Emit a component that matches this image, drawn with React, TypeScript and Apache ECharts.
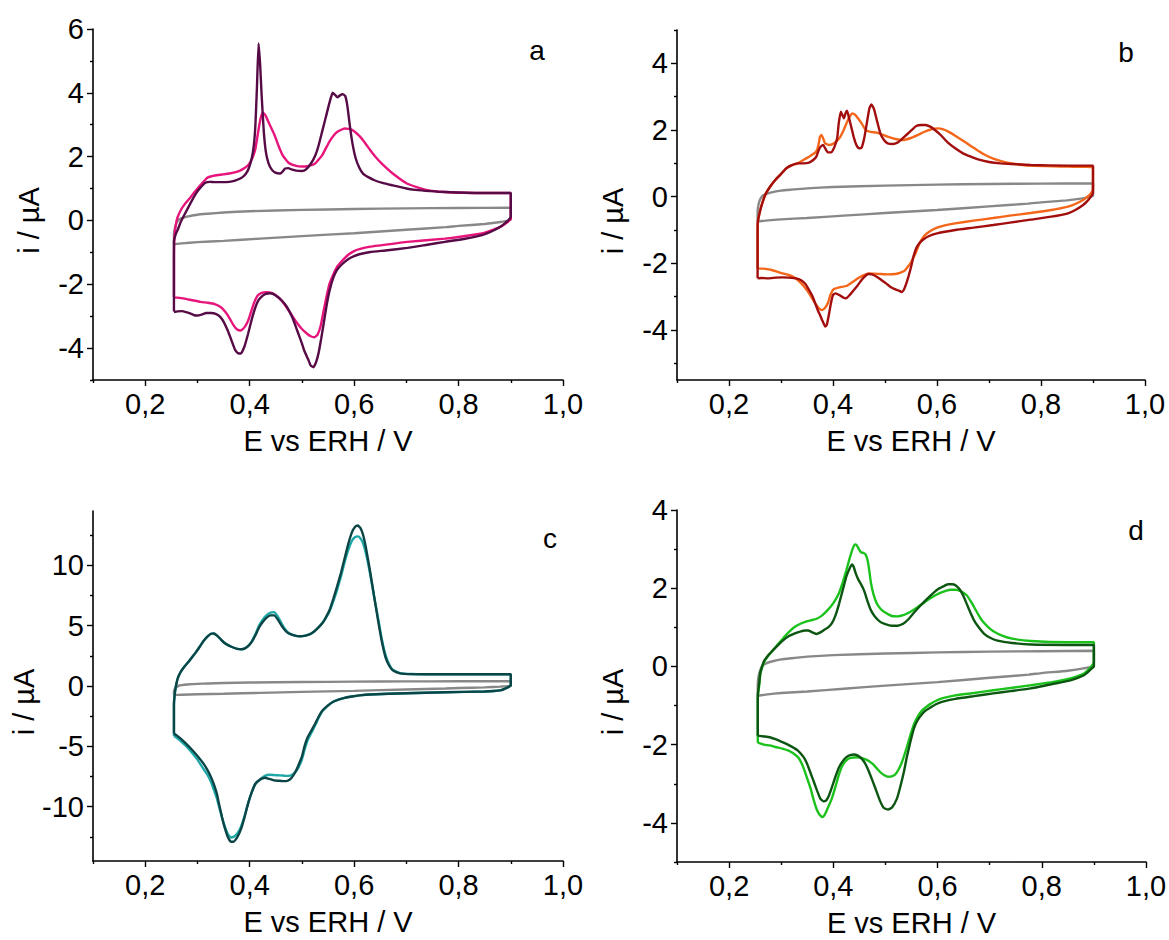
import React, { useEffect, useRef } from "react";
import * as echarts from "echarts";

// ---------- tick values ----------
const E_TICKS = [0.2, 0.4, 0.6, 0.8, 1.0];
const E_MINOR = [0.1, 0.3, 0.5, 0.7, 0.9];
const A_TICKS = [-4, -2, 0, 2, 4, 6];
const A_MINOR = [-5, -3, -1, 1, 3, 5];
const B_TICKS = [-4, -2, 0, 2, 4];
const B_MINOR = [-5, -3, -1, 1, 3, 5];
const C_TICKS = [-10, -5, 0, 5, 10];
const C_MINOR = [-12.5, -7.5, -2.5, 2.5, 7.5, 12.5];
const D_TICKS = [-4, -2, 0, 2, 4];
const D_MINOR = [-5, -3, -1, 1, 3];

// ---------- background (grey) CV, shared ----------
const greyUp: number[][] = [
  [0.255, -0.75], [0.255, -0.45], [0.257, -0.22], [0.26, -0.08], [0.264, 0.02], [0.27, 0.07],
  [0.28, 0.12], [0.3, 0.18], [0.32, 0.21], [0.35, 0.25], [0.4, 0.29], [0.5, 0.33],
  [0.6, 0.36], [0.7, 0.38], [0.8, 0.39], [0.9, 0.4], [0.9, 0.2], [0.9, 0.02],
];
const greyDown: number[][] = [
  [0.88, -0.05], [0.85, -0.11], [0.8, -0.17], [0.775, -0.21], [0.7, -0.29], [0.6, -0.4],
  [0.5, -0.49], [0.42, -0.57], [0.35, -0.64], [0.3, -0.68], [0.27, -0.72], [0.255, -0.75],
];

// ---------- panel a ----------
const aLightUp: number[][] = [
  [0.255, -2.41], [0.255, -1.2], [0.256, -0.5], [0.259, -0.1], [0.262, 0.1], [0.268, 0.32],
  [0.276, 0.52], [0.287, 0.73], [0.297, 0.94], [0.308, 1.15], [0.319, 1.34], [0.333, 1.41],
  [0.347, 1.44], [0.361, 1.47], [0.375, 1.52], [0.386, 1.6], [0.397, 1.73], [0.405, 1.95],
  [0.411, 2.25], [0.416, 2.75], [0.421, 3.2], [0.425, 3.38], [0.43, 3.3], [0.437, 3.05],
  [0.447, 2.7], [0.455, 2.35], [0.463, 2.05], [0.475, 1.8], [0.489, 1.71], [0.5, 1.69],
  [0.511, 1.7], [0.525, 1.78], [0.539, 2.05], [0.553, 2.48], [0.567, 2.77], [0.582, 2.88],
  [0.596, 2.84], [0.61, 2.65], [0.62, 2.45], [0.631, 2.2], [0.642, 1.97], [0.653, 1.78],
  [0.674, 1.47], [0.702, 1.15], [0.738, 0.96], [0.774, 0.89], [0.845, 0.86], [0.9, 0.86],
  [0.9, 0.3], [0.9, 0.05],
];
const aLightDown: number[][] = [
  [0.894, -0.05], [0.88, -0.2], [0.86, -0.33], [0.845, -0.41], [0.8, -0.52], [0.774, -0.57],
  [0.702, -0.67], [0.65, -0.78], [0.631, -0.82], [0.61, -0.9], [0.6, -0.96], [0.59, -1.06],
  [0.582, -1.18], [0.574, -1.32], [0.567, -1.46], [0.56, -1.7], [0.553, -1.98], [0.547, -2.4],
  [0.542, -2.8], [0.536, -3.3], [0.53, -3.58], [0.524, -3.66], [0.517, -3.63], [0.51, -3.55],
  [0.5, -3.4], [0.49, -3.2], [0.475, -2.83], [0.463, -2.55], [0.454, -2.4], [0.443, -2.28],
  [0.432, -2.25], [0.423, -2.27], [0.415, -2.36], [0.408, -2.6], [0.402, -2.9], [0.397, -3.14],
  [0.39, -3.35], [0.383, -3.45], [0.376, -3.42], [0.369, -3.28], [0.361, -3.05], [0.354, -2.88],
  [0.345, -2.72], [0.333, -2.62], [0.32, -2.58], [0.306, -2.55], [0.29, -2.5], [0.275, -2.45],
  [0.262, -2.42], [0.255, -2.41],
];
const aDarkUp: number[][] = [
  [0.255, -2.85], [0.255, -1.5], [0.255, -0.65], [0.258, -0.45], [0.262, -0.3], [0.268, -0.05],
  [0.276, 0.21], [0.287, 0.55], [0.297, 0.84], [0.306, 1.03], [0.315, 1.18], [0.324, 1.21],
  [0.333, 1.2], [0.347, 1.2], [0.361, 1.21], [0.372, 1.25], [0.383, 1.32], [0.392, 1.45],
  [0.398, 1.62], [0.404, 1.95], [0.408, 2.35], [0.411, 3.0], [0.414, 4.2], [0.417, 5.55],
  [0.42, 4.9], [0.423, 3.9], [0.427, 2.8], [0.431, 2.15], [0.436, 1.8], [0.442, 1.6],
  [0.449, 1.5], [0.458, 1.47], [0.464, 1.55], [0.468, 1.63], [0.474, 1.64], [0.48, 1.6],
  [0.489, 1.56], [0.5, 1.55], [0.508, 1.6], [0.518, 1.8], [0.526, 2.05], [0.532, 2.35],
  [0.539, 2.8], [0.546, 3.25], [0.553, 3.7], [0.559, 4.0], [0.564, 3.93], [0.568, 3.86],
  [0.573, 3.92], [0.578, 3.96], [0.583, 3.9], [0.587, 3.6], [0.592, 2.95], [0.597, 2.4],
  [0.603, 1.95], [0.61, 1.65], [0.617, 1.47], [0.628, 1.35], [0.639, 1.26], [0.656, 1.17],
  [0.674, 1.1], [0.7, 1.0], [0.717, 0.96], [0.745, 0.92], [0.774, 0.89], [0.845, 0.86],
  [0.9, 0.86], [0.9, 0.4], [0.9, 0.12],
];
const aDarkDown: number[][] = [
  [0.896, 0.02], [0.888, -0.1], [0.88, -0.2], [0.865, -0.33], [0.845, -0.46], [0.81, -0.58],
  [0.774, -0.67], [0.74, -0.76], [0.702, -0.86], [0.66, -0.94], [0.631, -0.99], [0.61, -1.06],
  [0.6, -1.12], [0.59, -1.2], [0.582, -1.3], [0.574, -1.42], [0.567, -1.56], [0.56, -1.8],
  [0.553, -2.2], [0.548, -2.6], [0.543, -3.1], [0.537, -3.7], [0.532, -4.15], [0.527, -4.45],
  [0.522, -4.6], [0.517, -4.55], [0.512, -4.35], [0.505, -4.1], [0.5, -3.85], [0.491, -3.45],
  [0.482, -3.05], [0.471, -2.7], [0.461, -2.5], [0.45, -2.35], [0.44, -2.28], [0.431, -2.3],
  [0.424, -2.37], [0.417, -2.5], [0.411, -2.72], [0.404, -3.1], [0.397, -3.55], [0.39, -3.95],
  [0.383, -4.17], [0.377, -4.15], [0.372, -4.05], [0.365, -3.75], [0.358, -3.45], [0.351, -3.2],
  [0.344, -3.03], [0.335, -2.93], [0.326, -2.9], [0.317, -2.9], [0.308, -2.95], [0.3, -2.98],
  [0.294, -2.97], [0.287, -2.92], [0.28, -2.88], [0.27, -2.84], [0.262, -2.85], [0.255, -2.87],
];

// ---------- panel b ----------
const bLightUp: number[][] = [
  [0.255, -2.15], [0.255, -1.2], [0.256, -0.7], [0.26, -0.4], [0.265, -0.15], [0.271, 0.1],
  [0.28, 0.32], [0.289, 0.5], [0.3, 0.68], [0.31, 0.85], [0.32, 0.94], [0.332, 1.0],
  [0.343, 1.1], [0.354, 1.2], [0.362, 1.28], [0.368, 1.36], [0.372, 1.55], [0.375, 1.8],
  [0.378, 1.85], [0.381, 1.75], [0.385, 1.6], [0.393, 1.55], [0.402, 1.6], [0.412, 1.75],
  [0.42, 1.98], [0.426, 2.2], [0.432, 2.4], [0.437, 2.5], [0.443, 2.45], [0.448, 2.35],
  [0.455, 2.2], [0.462, 2.02], [0.47, 1.95], [0.484, 1.92], [0.495, 1.86], [0.505, 1.8],
  [0.52, 1.73], [0.534, 1.7], [0.55, 1.76], [0.563, 1.85], [0.575, 1.94], [0.585, 2.0],
  [0.595, 2.04], [0.603, 2.05], [0.612, 2.02], [0.621, 1.96], [0.635, 1.83], [0.65, 1.68],
  [0.665, 1.52], [0.679, 1.38], [0.693, 1.25], [0.708, 1.14], [0.725, 1.06], [0.744, 1.0],
  [0.78, 0.93], [0.852, 0.9], [0.9, 0.88], [0.9, 0.5], [0.9, 0.22],
];
const bLightDown: number[][] = [
  [0.895, 0.08], [0.887, -0.03], [0.881, -0.1], [0.866, -0.22], [0.852, -0.3], [0.82, -0.4],
  [0.78, -0.49], [0.74, -0.57], [0.708, -0.64], [0.67, -0.72], [0.635, -0.8], [0.615, -0.86],
  [0.6, -0.93], [0.585, -1.05], [0.576, -1.17], [0.57, -1.3], [0.565, -1.45], [0.56, -1.65],
  [0.554, -1.85], [0.549, -2.0], [0.543, -2.12], [0.538, -2.22], [0.53, -2.28], [0.52, -2.32],
  [0.505, -2.33], [0.491, -2.32], [0.48, -2.31], [0.469, -2.3], [0.458, -2.36], [0.448, -2.45],
  [0.437, -2.57], [0.426, -2.68], [0.412, -2.72], [0.401, -2.78], [0.395, -2.95], [0.39, -3.2],
  [0.384, -3.35], [0.379, -3.4], [0.373, -3.35], [0.368, -3.25], [0.361, -3.08], [0.354, -2.9],
  [0.347, -2.75], [0.339, -2.6], [0.325, -2.42], [0.315, -2.35], [0.303, -2.3], [0.282, -2.2],
  [0.265, -2.16], [0.255, -2.15],
];
const bDarkUp: number[][] = [
  [0.255, -2.45], [0.255, -1.2], [0.255, -0.8], [0.258, -0.55], [0.262, -0.3], [0.267, -0.05],
  [0.271, 0.1], [0.28, 0.32], [0.289, 0.5], [0.3, 0.68], [0.31, 0.85], [0.32, 0.94],
  [0.332, 1.0], [0.343, 1.0], [0.354, 1.02], [0.362, 1.1], [0.368, 1.2], [0.372, 1.38],
  [0.376, 1.5], [0.381, 1.55], [0.385, 1.45], [0.39, 1.33], [0.397, 1.33], [0.403, 1.5],
  [0.408, 1.75], [0.411, 2.2], [0.415, 2.55], [0.418, 2.45], [0.421, 2.35], [0.424, 2.5],
  [0.427, 2.58], [0.431, 2.35], [0.435, 2.1], [0.44, 1.78], [0.445, 1.55], [0.45, 1.45],
  [0.455, 1.47], [0.46, 1.75], [0.465, 2.2], [0.47, 2.65], [0.474, 2.77], [0.479, 2.62],
  [0.485, 2.25], [0.491, 1.9], [0.498, 1.7], [0.505, 1.6], [0.515, 1.58], [0.524, 1.62],
  [0.532, 1.72], [0.541, 1.85], [0.55, 1.98], [0.56, 2.12], [0.57, 2.15], [0.578, 2.15],
  [0.587, 2.1], [0.596, 2.0], [0.607, 1.85], [0.621, 1.62], [0.635, 1.45], [0.65, 1.3],
  [0.665, 1.2], [0.679, 1.12], [0.7, 1.04], [0.722, 1.0], [0.78, 0.95], [0.852, 0.93],
  [0.9, 0.93], [0.9, 0.5], [0.9, 0.12],
];
const bDarkDown: number[][] = [
  [0.895, -0.02], [0.888, -0.15], [0.881, -0.25], [0.866, -0.4], [0.852, -0.5], [0.82, -0.6],
  [0.78, -0.69], [0.74, -0.78], [0.708, -0.85], [0.67, -0.93], [0.635, -1.0], [0.6, -1.1],
  [0.585, -1.18], [0.575, -1.27], [0.566, -1.4], [0.56, -1.55], [0.555, -1.78], [0.551, -2.05],
  [0.546, -2.35], [0.541, -2.6], [0.536, -2.8], [0.532, -2.86], [0.527, -2.82], [0.52, -2.78],
  [0.51, -2.7], [0.502, -2.6], [0.493, -2.5], [0.484, -2.4], [0.475, -2.33], [0.468, -2.32],
  [0.462, -2.38], [0.455, -2.5], [0.447, -2.67], [0.44, -2.8], [0.432, -2.95], [0.425, -3.05],
  [0.419, -3.02], [0.412, -2.95], [0.405, -2.9], [0.4, -2.95], [0.396, -3.2], [0.392, -3.55],
  [0.388, -3.85], [0.385, -3.9], [0.382, -3.8], [0.379, -3.7], [0.375, -3.55], [0.372, -3.45],
  [0.367, -3.25], [0.361, -3.0], [0.354, -2.8], [0.347, -2.62], [0.338, -2.5], [0.329, -2.45],
  [0.315, -2.43], [0.303, -2.42], [0.29, -2.43], [0.275, -2.45], [0.262, -2.44], [0.255, -2.45],
];

// ---------- panel c ----------
const cLightUp: number[][] = [
  [0.255, -4.15], [0.255, -2.5], [0.255, -1.5], [0.256, -0.9], [0.258, -0.2], [0.262, 0.6],
  [0.267, 1.1], [0.273, 1.5], [0.283, 2.0], [0.29, 2.4], [0.298, 2.85], [0.305, 3.3],
  [0.312, 3.75], [0.319, 4.1], [0.326, 4.33], [0.331, 4.35], [0.337, 4.2], [0.345, 3.85],
  [0.354, 3.5], [0.365, 3.25], [0.376, 3.08], [0.385, 3.05], [0.39, 3.1], [0.397, 3.3],
  [0.404, 3.7], [0.411, 4.3], [0.418, 5.0], [0.425, 5.5], [0.432, 5.85], [0.44, 6.08],
  [0.447, 6.12], [0.454, 5.75], [0.461, 5.2], [0.468, 4.7], [0.475, 4.4], [0.485, 4.2],
  [0.496, 4.12], [0.507, 4.18], [0.518, 4.35], [0.528, 4.7], [0.539, 5.2], [0.546, 5.65],
  [0.553, 6.2], [0.56, 7.0], [0.567, 7.9], [0.575, 9.1], [0.582, 10.3], [0.589, 11.3],
  [0.596, 12.05], [0.602, 12.35], [0.607, 12.4], [0.612, 12.25], [0.617, 11.85], [0.622, 11.1],
  [0.627, 10.1], [0.631, 9.2], [0.638, 7.5], [0.646, 5.6], [0.653, 3.9], [0.66, 2.6],
  [0.667, 1.8], [0.674, 1.35], [0.688, 1.07], [0.71, 0.99], [0.738, 0.97], [0.8, 0.97],
  [0.9, 0.97], [0.9, 0.5], [0.9, 0.05],
];
const cLightDown: number[][] = [
  [0.89, -0.2], [0.88, -0.36], [0.85, -0.45], [0.774, -0.52], [0.7, -0.6], [0.631, -0.7],
  [0.61, -0.78], [0.596, -0.87], [0.58, -1.0], [0.57, -1.12], [0.56, -1.3], [0.55, -1.62],
  [0.539, -2.1], [0.532, -2.65], [0.525, -3.3], [0.518, -3.9], [0.511, -4.5], [0.505, -5.3],
  [0.5, -6.1], [0.494, -6.7], [0.489, -7.05], [0.483, -7.3], [0.477, -7.42], [0.47, -7.45],
  [0.464, -7.42], [0.455, -7.4], [0.447, -7.38], [0.438, -7.35], [0.429, -7.45], [0.42, -7.75],
  [0.411, -8.1], [0.404, -8.8], [0.397, -9.7], [0.39, -10.8], [0.383, -11.7], [0.376, -12.25],
  [0.369, -12.5], [0.364, -12.55], [0.358, -12.25], [0.352, -11.6], [0.347, -10.9], [0.342, -10.1],
  [0.337, -9.3], [0.331, -8.55], [0.326, -7.95], [0.319, -7.35], [0.312, -6.9], [0.3, -6.1],
  [0.29, -5.55], [0.28, -5.05], [0.269, -4.6], [0.262, -4.35], [0.255, -4.15],
];
const cDarkUp: number[][] = [
  [0.255, -3.94], [0.255, -2.5], [0.255, -1.5], [0.256, -0.9], [0.258, -0.2], [0.262, 0.6],
  [0.267, 1.1], [0.273, 1.5], [0.283, 2.0], [0.29, 2.4], [0.298, 2.85], [0.305, 3.3],
  [0.312, 3.75], [0.319, 4.1], [0.326, 4.33], [0.331, 4.35], [0.337, 4.2], [0.345, 3.85],
  [0.354, 3.5], [0.365, 3.25], [0.376, 3.08], [0.385, 3.05], [0.39, 3.1], [0.397, 3.3],
  [0.404, 3.65], [0.411, 4.2], [0.418, 4.85], [0.425, 5.3], [0.432, 5.65], [0.44, 5.85],
  [0.447, 5.85], [0.454, 5.5], [0.461, 5.0], [0.468, 4.6], [0.475, 4.35], [0.485, 4.2],
  [0.496, 4.12], [0.507, 4.18], [0.518, 4.35], [0.528, 4.7], [0.539, 5.2], [0.546, 5.7],
  [0.553, 6.3], [0.56, 7.2], [0.567, 8.2], [0.575, 9.4], [0.582, 10.6], [0.589, 11.8],
  [0.596, 12.75], [0.602, 13.2], [0.607, 13.3], [0.612, 13.1], [0.617, 12.55], [0.622, 11.6],
  [0.627, 10.4], [0.631, 9.4], [0.638, 7.5], [0.646, 5.4], [0.653, 3.7], [0.66, 2.4],
  [0.667, 1.7], [0.674, 1.3], [0.688, 1.05], [0.71, 0.98], [0.738, 0.97], [0.8, 0.97],
  [0.9, 0.97], [0.9, 0.5], [0.9, 0.05],
];
const cDarkDown: number[][] = [
  [0.89, -0.2], [0.88, -0.36], [0.85, -0.45], [0.774, -0.52], [0.7, -0.6], [0.631, -0.7],
  [0.61, -0.78], [0.596, -0.87], [0.58, -1.0], [0.57, -1.12], [0.56, -1.3], [0.55, -1.6],
  [0.539, -2.05], [0.532, -2.55], [0.525, -3.15], [0.518, -3.7], [0.511, -4.25], [0.505, -5.0],
  [0.5, -5.85], [0.494, -6.5], [0.489, -7.0], [0.483, -7.45], [0.477, -7.75], [0.47, -7.88],
  [0.464, -7.88], [0.455, -7.85], [0.447, -7.82], [0.438, -7.7], [0.429, -7.6], [0.42, -7.75],
  [0.411, -8.1], [0.404, -8.8], [0.397, -9.75], [0.39, -10.9], [0.383, -11.9], [0.376, -12.55],
  [0.369, -12.9], [0.364, -12.9], [0.358, -12.5], [0.352, -11.7], [0.347, -10.85], [0.342, -9.9],
  [0.337, -8.9], [0.331, -8.1], [0.326, -7.55], [0.319, -6.95], [0.312, -6.45], [0.3, -5.8],
  [0.29, -5.3], [0.28, -4.85], [0.269, -4.4], [0.262, -4.15], [0.255, -3.94],
];

// ---------- panel d ----------
const dLightUp: number[][] = [
  [0.255, -1.95], [0.255, -1.2], [0.255, -0.8], [0.258, -0.45], [0.26, -0.19], [0.264, 0.0],
  [0.267, 0.11], [0.274, 0.25], [0.281, 0.37], [0.292, 0.54], [0.303, 0.71], [0.314, 0.87],
  [0.325, 1.0], [0.335, 1.08], [0.346, 1.14], [0.357, 1.18], [0.368, 1.22], [0.378, 1.3],
  [0.389, 1.44], [0.4, 1.62], [0.411, 1.88], [0.418, 2.15], [0.425, 2.46], [0.431, 2.75],
  [0.436, 2.97], [0.441, 3.12], [0.445, 3.1], [0.449, 3.0], [0.453, 2.92], [0.458, 2.9],
  [0.462, 2.86], [0.466, 2.7], [0.469, 2.45], [0.472, 2.15], [0.477, 1.85], [0.483, 1.62],
  [0.49, 1.48], [0.498, 1.39], [0.512, 1.29], [0.523, 1.28], [0.534, 1.31], [0.548, 1.4],
  [0.562, 1.52], [0.577, 1.66], [0.591, 1.78], [0.602, 1.86], [0.613, 1.92], [0.624, 1.96],
  [0.634, 1.96], [0.645, 1.92], [0.656, 1.82], [0.663, 1.68], [0.67, 1.52], [0.678, 1.33],
  [0.685, 1.18], [0.696, 1.02], [0.707, 0.9], [0.725, 0.78], [0.743, 0.71], [0.779, 0.65],
  [0.851, 0.62], [0.9, 0.62], [0.9, 0.4], [0.9, 0.1],
];
const dLightDown: number[][] = [
  [0.895, 0.0], [0.888, -0.1], [0.88, -0.19], [0.865, -0.27], [0.851, -0.32], [0.82, -0.4],
  [0.779, -0.48], [0.74, -0.55], [0.707, -0.61], [0.67, -0.68], [0.634, -0.74], [0.61, -0.81],
  [0.598, -0.87], [0.585, -0.97], [0.577, -1.05], [0.57, -1.13], [0.562, -1.28], [0.555, -1.47],
  [0.548, -1.75], [0.541, -2.07], [0.535, -2.32], [0.53, -2.5], [0.524, -2.66], [0.519, -2.76],
  [0.512, -2.81], [0.505, -2.82], [0.498, -2.78], [0.49, -2.7], [0.483, -2.6], [0.476, -2.5],
  [0.468, -2.42], [0.461, -2.37], [0.447, -2.32], [0.433, -2.34], [0.425, -2.4], [0.418, -2.52],
  [0.411, -2.75], [0.404, -3.08], [0.397, -3.38], [0.389, -3.63], [0.383, -3.8], [0.379, -3.85],
  [0.374, -3.8], [0.368, -3.65], [0.362, -3.4], [0.357, -3.15], [0.35, -2.87], [0.343, -2.6],
  [0.337, -2.42], [0.332, -2.32], [0.323, -2.22], [0.314, -2.15], [0.302, -2.1], [0.289, -2.06],
  [0.278, -2.02], [0.267, -2.0], [0.255, -1.95],
];
const dDarkUp: number[][] = [
  [0.255, -1.77], [0.255, -1.2], [0.255, -0.75], [0.257, -0.5], [0.26, -0.15], [0.264, 0.03],
  [0.267, 0.14], [0.274, 0.27], [0.281, 0.37], [0.292, 0.52], [0.303, 0.66], [0.314, 0.77],
  [0.325, 0.84], [0.336, 0.89], [0.346, 0.92], [0.352, 0.92], [0.357, 0.89], [0.363, 0.85],
  [0.368, 0.83], [0.375, 0.87], [0.382, 0.93], [0.39, 1.0], [0.397, 1.1], [0.404, 1.3],
  [0.411, 1.6], [0.418, 1.95], [0.425, 2.3], [0.431, 2.5], [0.436, 2.61], [0.439, 2.55],
  [0.443, 2.38], [0.448, 2.22], [0.454, 2.08], [0.458, 1.97], [0.461, 1.86], [0.466, 1.65],
  [0.472, 1.44], [0.48, 1.27], [0.49, 1.14], [0.5, 1.08], [0.512, 1.04], [0.523, 1.04],
  [0.534, 1.09], [0.545, 1.22], [0.555, 1.38], [0.566, 1.54], [0.577, 1.69], [0.588, 1.83],
  [0.598, 1.95], [0.61, 2.04], [0.62, 2.1], [0.628, 2.1], [0.635, 2.07], [0.642, 1.98],
  [0.649, 1.82], [0.656, 1.6], [0.663, 1.38], [0.67, 1.18], [0.679, 1.0], [0.689, 0.84],
  [0.7, 0.74], [0.715, 0.66], [0.743, 0.6], [0.779, 0.56], [0.851, 0.55], [0.9, 0.55],
  [0.9, 0.3], [0.9, 0.0],
];
const dDarkDown: number[][] = [
  [0.895, -0.06], [0.888, -0.15], [0.88, -0.23], [0.865, -0.31], [0.851, -0.37], [0.82, -0.45],
  [0.779, -0.56], [0.74, -0.63], [0.707, -0.69], [0.67, -0.76], [0.634, -0.83], [0.61, -0.9],
  [0.598, -0.96], [0.585, -1.06], [0.577, -1.13], [0.57, -1.22], [0.562, -1.37], [0.555, -1.57],
  [0.548, -1.92], [0.541, -2.32], [0.535, -2.72], [0.528, -3.1], [0.522, -3.38], [0.513, -3.6],
  [0.505, -3.66], [0.497, -3.62], [0.49, -3.45], [0.483, -3.2], [0.476, -2.95], [0.468, -2.68],
  [0.461, -2.48], [0.454, -2.35], [0.447, -2.28], [0.44, -2.25], [0.432, -2.27], [0.425, -2.32],
  [0.418, -2.42], [0.411, -2.58], [0.404, -2.82], [0.397, -3.1], [0.391, -3.32], [0.386, -3.43],
  [0.381, -3.45], [0.375, -3.38], [0.369, -3.18], [0.364, -3.0], [0.357, -2.75], [0.35, -2.5],
  [0.343, -2.32], [0.332, -2.15], [0.32, -2.05], [0.31, -1.98], [0.3, -1.92], [0.289, -1.86],
  [0.278, -1.81], [0.267, -1.79], [0.255, -1.77],
];

const FONT = "'Liberation Sans', Arial, sans-serif";
const GREY = "#888888";
const FS = 29;

const panels = [
  { letter: "a", grid: { left: 93, top: 29, width: 470, height: 351 }, yMin: -5, yMax: 6, yTicks: A_TICKS, yMinor: A_MINOR,
    light: { up: aLightUp, down: aLightDown, color: "#e6147b" }, dark: { up: aDarkUp, down: aDarkDown, color: "#560a46" }, lx: 537, ly: 50 },
  { letter: "b", grid: { left: 677, top: 30, width: 468, height: 350 }, yMin: -5.5, yMax: 5, yTicks: B_TICKS, yMinor: B_MINOR,
    light: { up: bLightUp, down: bLightDown, color: "#f4661a" }, dark: { up: bDarkUp, down: bDarkDown, color: "#a20d0d" }, lx: 1126, ly: 52 },
  { letter: "c", grid: { left: 93, top: 511, width: 470, height: 350 }, yMin: -14.5, yMax: 14.5, yTicks: C_TICKS, yMinor: C_MINOR,
    light: { up: cLightUp, down: cLightDown, color: "#20a8a8" }, dark: { up: cDarkUp, down: cDarkDown, color: "#0b4546" }, lx: 550, ly: 538 },
  { letter: "d", grid: { left: 677, top: 510, width: 469, height: 352 }, yMin: -5, yMax: 4, yTicks: D_TICKS, yMinor: D_MINOR,
    light: { up: dLightUp, down: dLightDown, color: "#1cc21c" }, dark: { up: dDarkUp, down: dDarkDown, color: "#0c5612" }, lx: 1136, ly: 530 },
];

function buildOption() {
  const grid: any[] = [];
  const xAxis: any[] = [];
  const yAxis: any[] = [];
  const series: any[] = [];
  const graphic: any[] = [];
  const axisLine = { show: true, onZero: false, lineStyle: { color: "#000", width: 1.6 } };
  const hiddenLine = { show: false, onZero: false };

  panels.forEach((p, i) => {
    grid.push({ ...p.grid, containLabel: false, outerBoundsMode: "none" });
    xAxis.push({
      type: "value", gridIndex: i, min: 0.1, max: 1.0, position: "bottom",
      axisLine,
      splitLine: { show: false },
      axisTick: { show: true, customValues: E_TICKS, length: 6, lineStyle: { color: "#000", width: 1.4 } },
      axisLabel: { show: true, customValues: E_TICKS, margin: 9, color: "#000", fontSize: FS, fontFamily: FONT,
        formatter: (v: number) => v.toFixed(1).replace(".", ",") },
      name: "E vs ERH / V", nameLocation: "middle", nameGap: 46,
      nameTextStyle: { color: "#000", fontSize: FS, fontFamily: FONT },
    });
    xAxis.push({
      type: "value", gridIndex: i, min: 0.1, max: 1.0, position: "bottom",
      axisLine: hiddenLine, splitLine: { show: false }, axisLabel: { show: false },
      axisTick: { show: true, customValues: E_MINOR, length: 3, lineStyle: { color: "#000", width: 1.4 } },
    });
    yAxis.push({
      type: "value", gridIndex: i, min: p.yMin, max: p.yMax, position: "left",
      axisLine,
      splitLine: { show: false },
      axisTick: { show: true, customValues: p.yTicks, length: 6, lineStyle: { color: "#000", width: 1.4 } },
      axisLabel: { show: true, customValues: p.yTicks, margin: 9, color: "#000", fontSize: FS, fontFamily: FONT,
        formatter: (v: number) => String(v) },
      name: "i / \u00B5A", nameLocation: "middle", nameGap: 50,
      nameTextStyle: { color: "#000", fontSize: FS, fontFamily: FONT, padding: [0, 32, 0, 0] },
    });
    yAxis.push({
      type: "value", gridIndex: i, min: p.yMin, max: p.yMax, position: "left",
      axisLine: hiddenLine, splitLine: { show: false }, axisLabel: { show: false },
      axisTick: { show: true, customValues: p.yMinor, length: 3, lineStyle: { color: "#000", width: 1.4 } },
    });
    const base = { type: "line", xAxisIndex: i * 2, yAxisIndex: i * 2, showSymbol: false, symbol: "none", smooth: 0.15, silent: true };
    series.push({ ...base, name: p.letter + "-bg", data: [...greyUp, ...greyDown], lineStyle: { color: GREY, width: 2.4 } });
    series.push({ ...base, name: p.letter + "-1", data: [...p.light.up, ...p.light.down], lineStyle: { color: p.light.color, width: 2.4 } });
    series.push({ ...base, name: p.letter + "-2", data: [...p.dark.up, ...p.dark.down], lineStyle: { color: p.dark.color, width: 2.4 } });
    graphic.push({ type: "text", x: p.lx, y: p.ly, style: { text: p.letter, fill: "#000", fontSize: 28, fontFamily: FONT, textAlign: "center", textVerticalAlign: "middle" } });
  });

  return { animation: false, backgroundColor: "#fff", grid, xAxis, yAxis, series, graphic };
}

export default function App() {
  const ref = useRef<HTMLDivElement>(null);
  useEffect(() => {
    if (!ref.current) return;
    const chart = echarts.init(ref.current, undefined, { renderer: "svg" });
    chart.setOption(buildOption() as any);
    return () => chart.dispose();
  }, []);
  return <div ref={ref} style={{ position: "absolute", left: 0, top: 0, width: 1169, height: 940, background: "#fff" }} />;
}
